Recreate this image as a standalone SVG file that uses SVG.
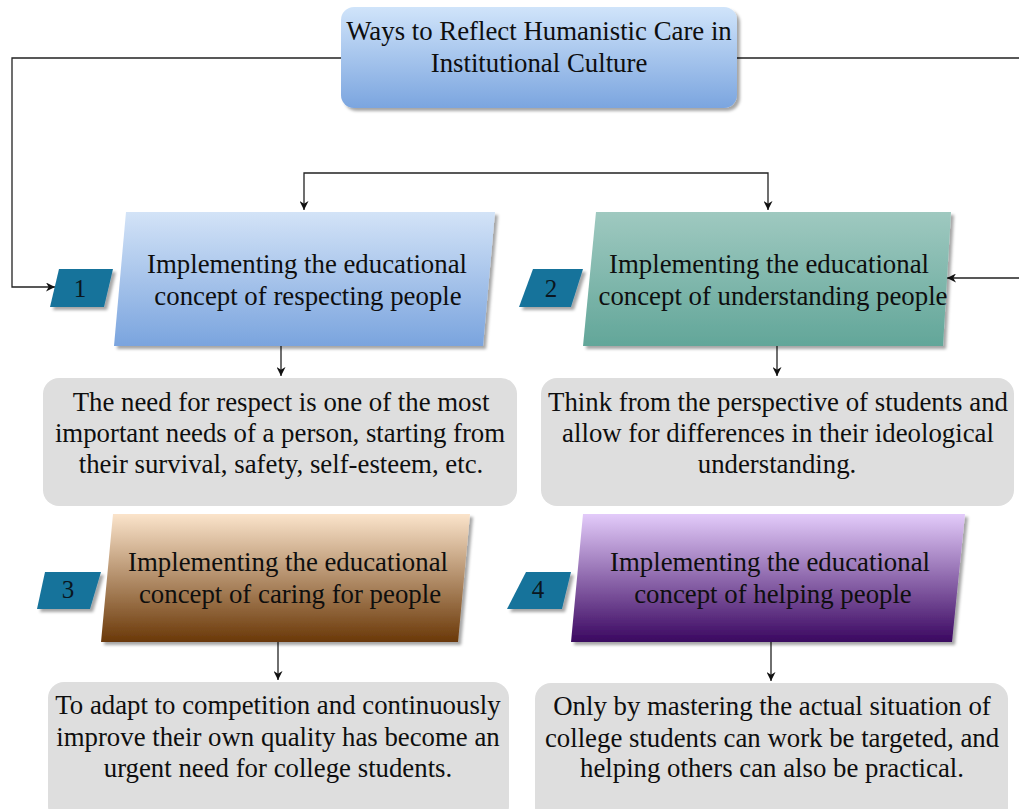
<svg xmlns="http://www.w3.org/2000/svg" width="1019" height="809" viewBox="0 0 1019 809">
  <defs>
    <linearGradient id="gTitle" x1="0" y1="0" x2="0" y2="1">
      <stop offset="0" stop-color="#d0e4fa"/>
      <stop offset="1" stop-color="#7ba5df"/>
    </linearGradient>
    <linearGradient id="g1" x1="0" y1="0" x2="0" y2="1">
      <stop offset="0" stop-color="#d3e3f7"/>
      <stop offset="1" stop-color="#7aa4de"/>
    </linearGradient>
    <linearGradient id="g2" x1="0" y1="0" x2="0" y2="1">
      <stop offset="0" stop-color="#9fc9c0"/>
      <stop offset="1" stop-color="#62a699"/>
    </linearGradient>
    <linearGradient id="g3" x1="0" y1="0" x2="0" y2="1">
      <stop offset="0" stop-color="#fbe4cb"/>
      <stop offset="1" stop-color="#6a3808"/>
    </linearGradient>
    <linearGradient id="g4" x1="0" y1="0" x2="0" y2="1">
      <stop offset="0" stop-color="#e3cbfa"/>
      <stop offset="1" stop-color="#3a0760"/>
    </linearGradient>
    <filter id="sh" x="-10%" y="-10%" width="125%" height="130%">
      <feDropShadow dx="3" dy="3" stdDeviation="1.5" flood-color="#000" flood-opacity="0.35"/>
    </filter>
    <marker id="arr" viewBox="0 0 10 10" refX="10" refY="5" markerWidth="9" markerHeight="9" markerUnits="userSpaceOnUse" orient="auto-start-reverse">
      <path d="M0,0 L10,5 L0,10 L3,5 Z" fill="#111"/>
    </marker>
    <style>
      .t { font-family: "Liberation Serif", "Times New Roman", serif; font-size: 26.8px; fill: #0e0e0e; text-anchor: middle; }
      .n { font-family: "Liberation Serif", "Times New Roman", serif; font-size: 25px; fill: #0a1620; text-anchor: middle; }
      .badge { fill: #18739b; filter: url(#sh); }
      .desc { fill: #dedede; }
      .c { fill: none; stroke: #222; stroke-width: 1.3; }
    </style>
  </defs>

  <rect width="1019" height="809" fill="#fff"/>

  <g id="connectors">
    <path class="c" d="M341,58 H12 V287 H55" marker-end="url(#arr)"/>
    <path class="c" d="M737,58 H1030 V278 H947" marker-end="url(#arr)"/>
    <path class="c" d="M304,210 V173 H768 V210" marker-start="url(#arr)" marker-end="url(#arr)"/>
    <path class="c" d="M281,346 V376" marker-end="url(#arr)"/>
    <path class="c" d="M777,346 V376" marker-end="url(#arr)"/>
    <path class="c" d="M278,642 V680" marker-end="url(#arr)"/>
    <path class="c" d="M771,642 V681" marker-end="url(#arr)"/>
  </g>

  <g id="title">
    <rect x="341" y="7" width="396" height="101" rx="13" fill="url(#gTitle)" filter="url(#sh)"/>
    <text class="t" x="539" y="40">Ways to Reflect Humanistic Care in</text>
    <text class="t" x="539" y="72">Institutional Culture</text>
  </g>

  <g id="badge1">
    <polygon class="badge" points="59,269 113,269 104,307 50,307"/>
    <text class="n" x="80" y="297">1</text>
  </g>
  <g id="node1">
    <polygon points="126,212 495,212 483,346 114,346" fill="url(#g1)" filter="url(#sh)"/>
    <text class="t" x="307" y="273">Implementing the educational</text>
    <text class="t" x="308" y="305">concept of respecting people</text>
  </g>

  <g id="badge2">
    <polygon class="badge" points="533,269 583,269 571,307 519,307"/>
    <text class="n" x="551" y="297">2</text>
  </g>
  <g id="node2">
    <polygon points="596,212 951,212 943,346 583,346" fill="url(#g2)" filter="url(#sh)"/>
    <text class="t" x="769" y="273">Implementing the educational</text>
    <text class="t" x="773" y="305">concept of understanding people</text>
  </g>

  <g id="desc1">
    <rect class="desc" x="43" y="378" width="474" height="128" rx="16"/>
    <text class="t" x="281" y="411">The need for respect is one of the most</text>
    <text class="t" x="280" y="442">important needs of a person, starting from</text>
    <text class="t" x="281" y="473">their survival, safety, self-esteem, etc.</text>
  </g>

  <g id="desc2">
    <rect class="desc" x="541" y="378" width="473" height="128" rx="16"/>
    <text class="t" x="778" y="411">Think from the perspective of students and</text>
    <text class="t" x="778" y="442">allow for differences in their ideological</text>
    <text class="t" x="777" y="473">understanding.</text>
  </g>

  <g id="badge3">
    <polygon class="badge" points="45,572 101,572 90,609 37,609"/>
    <text class="n" x="68" y="598">3</text>
  </g>
  <g id="node3">
    <polygon points="113,514 470,514 458,642 101,642" fill="url(#g3)" filter="url(#sh)"/>
    <text class="t" x="288" y="571">Implementing the educational</text>
    <text class="t" x="290" y="603">concept of caring for people</text>
  </g>

  <g id="badge4">
    <polygon class="badge" points="526,572 571,572 562,609 507,609"/>
    <text class="n" x="538" y="598">4</text>
  </g>
  <g id="node4">
    <polygon points="583,514 965,514 952,642 571,642" fill="url(#g4)" filter="url(#sh)"/>
    <text class="t" x="770" y="571">Implementing the educational</text>
    <text class="t" x="773" y="603">concept of helping people</text>
  </g>

  <g id="desc3">
    <rect class="desc" x="48" y="682" width="461" height="140" rx="16"/>
    <text class="t" x="278" y="714">To adapt to competition and continuously</text>
    <text class="t" x="278" y="746">improve their own quality has become an</text>
    <text class="t" x="278" y="777">urgent need for college students.</text>
  </g>

  <g id="desc4">
    <rect class="desc" x="535" y="683" width="473" height="140" rx="16"/>
    <text class="t" x="772" y="715">Only by mastering the actual situation of</text>
    <text class="t" x="772" y="747">college students can work be targeted, and</text>
    <text class="t" x="772" y="777">helping others can also be practical.</text>
  </g>
</svg>
